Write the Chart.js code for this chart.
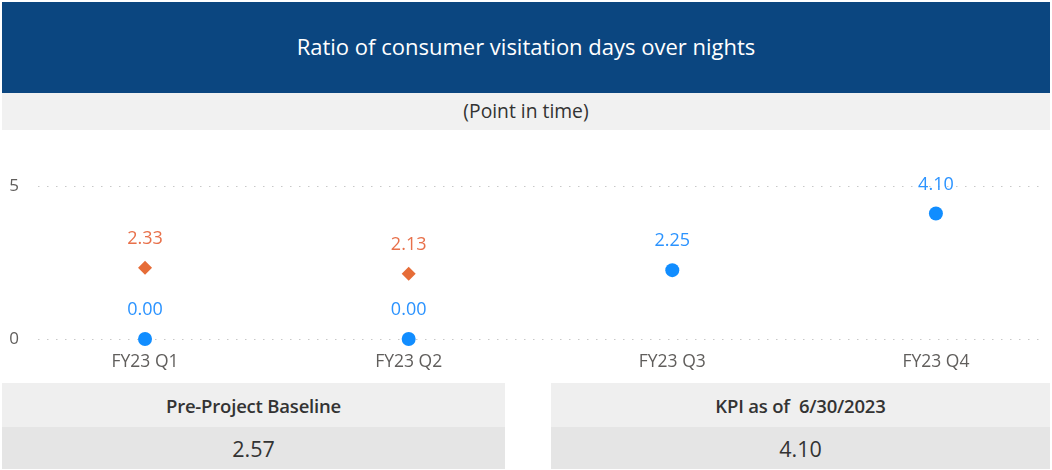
<!DOCTYPE html>
<html>
<head>
<meta charset="utf-8">
<script src="https://cdn.jsdelivr.net/npm/chart.js@4/dist/chart.umd.min.js"></script>
<style>
  html, body { margin: 0; padding: 0; background: #fff; width: 1052px; height: 470px; overflow: hidden; font-family: "Open Sans", "Noto Sans", sans-serif; }
  .banner { position: absolute; left: 2px; top: 2px; width: 1048px; height: 91px; padding-bottom: 4px; box-sizing: border-box; background: #0b4680; color: #fff; font-size: 22px; display: flex; align-items: center; justify-content: center; }
  .sub { position: absolute; left: 2px; top: 93px; width: 1048px; height: 37px; padding-bottom: 3px; box-sizing: border-box; background: #f1f1f1; color: #333; font-size: 19.3px; display: flex; align-items: center; justify-content: center; }
  #wrap { position: absolute; left: 0; top: 130px; width: 1052px; height: 252px; }
  .box { position: absolute; top: 383px; }
  .box .hd { height: 44px; background: #efefef; color: #333; font-weight: 600; font-size: 18.5px; display: flex; align-items: center; justify-content: center; white-space: pre; letter-spacing: -0.2px; }
  .box .val { height: 42px; background: #e5e5e5; color: #333; font-size: 21.5px; display: flex; align-items: center; justify-content: center; }
</style>
</head>
<body>
<div class="banner" id="title"></div>
<div class="sub" id="subtitle"></div>
<div id="wrap"><canvas id="c"></canvas></div>
<div class="box" style="left:2px;width:503px;"><div class="hd" id="h1"></div><div class="val" id="v1"></div></div>
<div class="box" style="left:551px;width:499px;"><div class="hd" id="h2"></div><div class="val" id="v2"></div></div>
<script>
const titleText = "Ratio of consumer visitation days over nights";
const subtitleText = "(Point in time)";
const categories = ["FY23 Q1", "FY23 Q2", "FY23 Q3", "FY23 Q4"];
const actualValues = [0.00, 0.00, 2.25, 4.10];
const baselineValues = [2.33, 2.13, null, null];
const yTicks = [0, 5];
const cardLabels = ["Pre-Project Baseline", "KPI as of  6/30/2023"];
const cardValues = ["2.57", "4.10"];

document.getElementById('title').textContent = titleText;
document.getElementById('subtitle').textContent = subtitleText;
document.getElementById('h1').textContent = cardLabels[0];
document.getElementById('h2').textContent = cardLabels[1];
document.getElementById('v1').textContent = cardValues[0];
document.getElementById('v2').textContent = cardValues[1];

const toPts = arr => arr.map((v, i) => v === null ? null : { x: i, y: v }).filter(p => p !== null);

const labelPlugin = {
  id: 'pointLabels',
  afterDatasetsDraw(chart) {
    const ctx = chart.ctx;
    chart.data.datasets.forEach((ds, di) => {
      const meta = chart.getDatasetMeta(di);
      meta.data.forEach((el, i) => {
        const v = ds.data[i].y;
        ctx.save();
        ctx.font = '18px "Open Sans", "Noto Sans", sans-serif';
        ctx.fillStyle = ds.labelColor;
        ctx.textAlign = 'center';
        ctx.textBaseline = 'middle';
        ctx.fillText(v.toFixed(2), el.x, el.y - 29);
        ctx.restore();
      });
    });
  }
};

new Chart(document.getElementById('c'), {
  type: 'scatter',
  data: {
    datasets: [
      {
        label: 'Baseline',
        data: toPts(baselineValues),
        pointStyle: 'rectRot',
        pointRadius: 7,
        pointHoverRadius: 7,
        backgroundColor: '#e66c37',
        borderColor: '#e66c37',
        borderWidth: 0,
        labelColor: '#e8704a',
        clip: false
      },
      {
        label: 'Actual',
        data: toPts(actualValues),
        pointStyle: 'circle',
        pointRadius: 7,
        pointHoverRadius: 7,
        backgroundColor: '#118dff',
        borderColor: '#118dff',
        borderWidth: 0,
        labelColor: '#2b93ff',
        clip: false
      }
    ]
  },
  options: {
    responsive: true,
    maintainAspectRatio: false,
    animation: false,
    events: [],
    layout: { padding: { top: 56, right: 13, left: 0, bottom: 0 } },
    plugins: { legend: { display: false }, tooltip: { enabled: false } },
    scales: {
      x: {
        type: 'linear',
        min: -0.406,
        max: 3.391,
        afterBuildTicks: s => { s.ticks = categories.map((c, i) => ({ value: i })); },
        afterFit: s => { s.height = 43; },
        ticks: {
          callback: v => categories[v],
          color: '#605e5c',
          font: { family: '"Open Sans", "Noto Sans", sans-serif', size: 17.5 },
          padding: 13,
          maxRotation: 0,
          autoSkip: false
        },
        grid: { display: false, drawTicks: false },
        border: { display: false }
      },
      y: {
        min: 0,
        max: 5,
        afterBuildTicks: s => { s.ticks = yTicks.map(v => ({ value: v })); },
        afterFit: s => { s.width = 38; },
        ticks: {
          color: '#605e5c',
          font: { family: '"Open Sans", "Noto Sans", sans-serif', size: 17 },
          padding: 19
        },
        grid: { color: '#c8c8c8', lineWidth: 1, drawTicks: false },
        border: { display: false, dash: [1.5, 7.5] }
      }
    }
  },
  plugins: [labelPlugin]
});
</script>
</body>
</html>
